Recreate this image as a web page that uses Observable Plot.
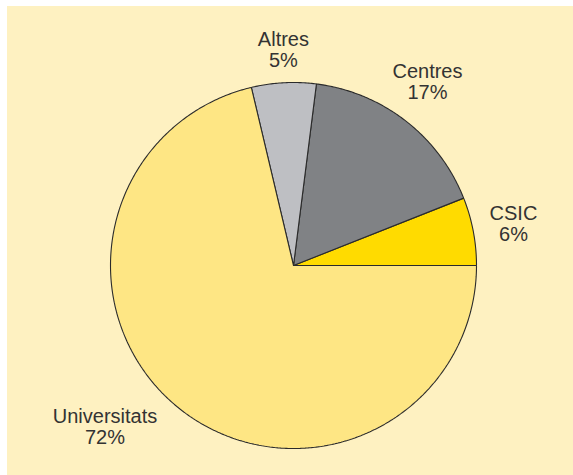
<!DOCTYPE html>
<html><head><meta charset="utf-8">
<script src="https://cdn.jsdelivr.net/npm/d3@7"></script>
<script src="https://cdn.jsdelivr.net/npm/@observablehq/plot@0.6"></script>
<style>
html,body{margin:0;padding:0;background:#fff;}
#bg{position:absolute;left:7px;top:6px;right:0;bottom:0;background:#FEF1C1;}
#chart{position:absolute;left:0;top:0;}
#chart svg{background:transparent;}
</style></head>
<body><div id="bg"></div><div id="chart"></div>
<script>
const categories = ["CSIC", "Centres", "Altres", "Universitats"];
const values = [6, 17, 5.7, 71.3];
const labels = ["CSIC\n6%", "Centres\n17%", "Altres\n5%", "Universitats\n72%"];
const colors = ["#FFDB00", "#808285", "#BEBFC3", "#FEE684"];
const labelPos = [[1.202, 0.230], [0.732, 1.005], [-0.055, 1.180], [-1.030, -0.880]];

const total = d3.sum(values);
const polys = [];
let start = 0;
categories.forEach((c, i) => {
  const a0 = start / total * 2 * Math.PI;
  const a1 = (start + values[i]) / total * 2 * Math.PI;
  start += values[i];
  polys.push({cat: c, x: 0, y: 0});
  const n = Math.max(2, Math.ceil((a1 - a0) / (Math.PI / 360)));
  for (let k = 0; k <= n; k++) {
    const a = a0 + (a1 - a0) * k / n;
    polys.push({cat: c, x: Math.cos(a), y: Math.sin(a)});
  }
  polys.push({cat: c, x: 0, y: 0});
});
const textData = categories.map((c, i) => ({cat: c, label: labels[i], x: labelPos[i][0], y: labelPos[i][1]}));

const plot = Plot.plot({
  width: 573, height: 475,
  marginLeft: 110, marginRight: 97, marginTop: 82, marginBottom: 27,
  x: {domain: [-1, 1], axis: null},
  y: {domain: [-1, 1], axis: null},
  color: {domain: categories, range: colors},
  style: {fontFamily: "'Liberation Sans', Arial, sans-serif", background: "transparent"},
  marks: [
    Plot.line(polys, {x: "x", y: "y", z: "cat", fill: "cat", stroke: "#2b2b2b", strokeWidth: 1.1, strokeLinejoin: "miter", curve: "linear"}),
    Plot.text(textData, {x: "x", y: "y", text: "label", fill: "#333", fontSize: 20, lineHeight: 1.05, textAnchor: "middle"})
  ]
});
document.getElementById("chart").appendChild(plot);
</script></body></html>
